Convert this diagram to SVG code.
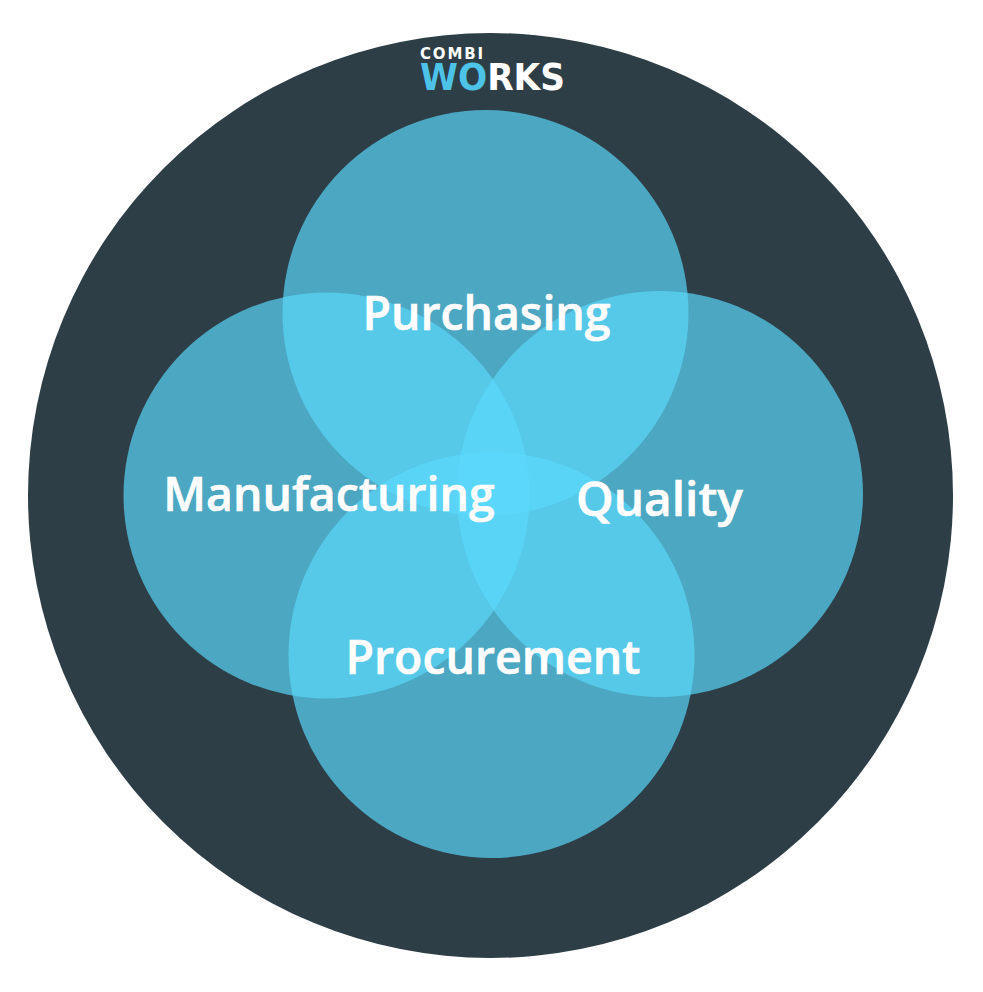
<svg xmlns="http://www.w3.org/2000/svg" width="983" height="992" viewBox="0 0 983 992">
<style>
.c{fill:#5bd9fc;fill-opacity:.68}
.t{font-family:"Open Sans","Noto Sans",sans-serif;font-weight:600;font-size:46.4px;fill:#fff;stroke:#fff;stroke-width:.6px;text-anchor:middle}
.l{font-family:"DejaVu Sans",sans-serif;font-weight:700;fill:#fff}
</style>
<defs><linearGradient id="o" x1="0" x2="1" y1="0" y2="0"><stop offset=".55" stop-color="#4dc3e8"/><stop offset=".55" stop-color="#fff"/></linearGradient></defs>
<rect width="983" height="992" fill="#fff"/>
<circle id="outer" cx="490.5" cy="495.5" r="462.5" fill="#2d3e47"/>
<g id="logo">
<text class="l" x="420" y="58.500" font-size="15" textLength="63" lengthAdjust="spacing">COMBI</text>
<text class="l" x="420" y="90" font-size="37" textLength="145" lengthAdjust="spacingAndGlyphs"><tspan fill="#4dc3e8">W</tspan><tspan fill="url(#o)">O</tspan>RKS</text>
</g>
<g id="purchasing"><circle class="c" cx="485.5" cy="313" r="203"/></g>
<g id="manufacturing"><circle class="c" cx="326.5" cy="495.5" r="203"/></g>
<g id="quality"><circle class="c" cx="660" cy="494" r="203"/></g>
<g id="procurement"><circle class="c" cx="491.5" cy="655" r="203"/></g>
<g id="labels">
<text class="t" x="486.500" y="330">Purchasing</text>
<text class="t" x="329" y="511">Manufacturing</text>
<text class="t" x="659.500" y="516" style="font-size:47.8px">Quality</text>
<text class="t" x="493" y="674">Procurement</text>
</g>
</svg>
